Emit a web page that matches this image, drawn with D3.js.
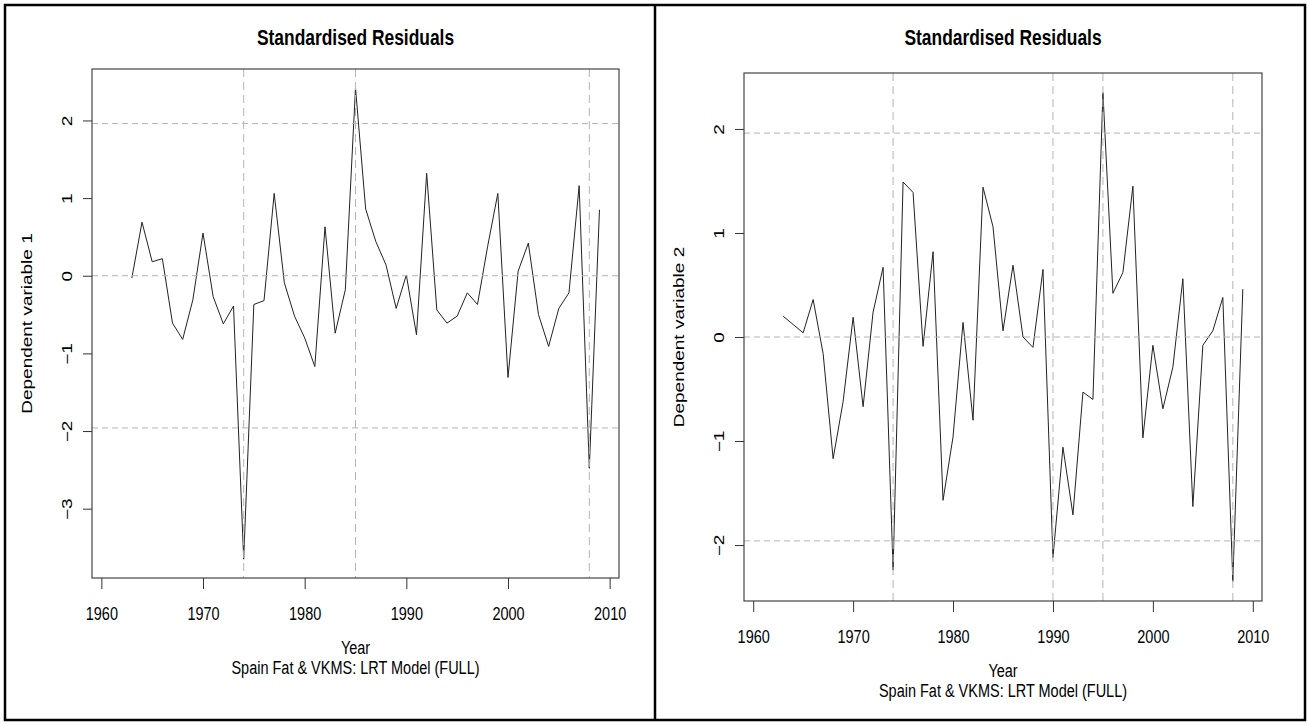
<!DOCTYPE html>
<html>
<head>
<meta charset="utf-8">
<script src="https://cdn.jsdelivr.net/npm/d3@7"></script>
<style>
  body { margin: 0; background: #fff; }
  text { font-family: "Liberation Sans", Arial, sans-serif; fill: #000; }
</style>
</head>
<body>
<svg id="chart"></svg>
<script>
// ---- data ----
const years = [1963, 1964, 1965, 1966, 1967, 1968, 1969, 1970, 1971, 1972,
  1973, 1974, 1975, 1976, 1977, 1978, 1979, 1980, 1981, 1982,
  1983, 1984, 1985, 1986, 1987, 1988, 1989, 1990, 1991, 1992,
  1993, 1994, 1995, 1996, 1997, 1998, 1999, 2000, 2001, 2002,
  2003, 2004, 2005, 2006, 2007, 2008, 2009];

const resid1 = [-0.03, 0.69, 0.18, 0.22, -0.61, -0.82, -0.31, 0.55, -0.27, -0.62,
  -0.39, -3.65, -0.37, -0.32, 1.06, -0.09, -0.52, -0.80, -1.17, 0.63,
  -0.74, -0.18, 2.42, 0.86, 0.44, 0.14, -0.42, 0.01, -0.76, 1.32,
  -0.44, -0.61, -0.52, -0.22, -0.37, 0.38, 1.06, -1.31, 0.06, 0.42,
  -0.50, -0.91, -0.42, -0.22, 1.16, -2.48, 0.85];

const resid2 = [0.20, 0.12, 0.04, 0.36, -0.16, -1.17, -0.62, 0.19, -0.67, 0.24,
  0.67, -2.24, 1.49, 1.39, -0.09, 0.82, -1.57, -0.96, 0.14, -0.80,
  1.44, 1.06, 0.06, 0.69, 0.00, -0.10, 0.65, -2.12, -1.06, -1.71,
  -0.53, -0.60, 2.35, 0.42, 0.62, 1.45, -0.97, -0.08, -0.69, -0.29,
  0.56, -1.63, -0.08, 0.06, 0.38, -2.35, 0.46];

const breaks1 = [1974, 1985, 2008];
const breaks2 = [1974, 1990, 1995, 2008];
const refLevels = [-1.96, 0, 1.96];

const xTicks = [1960, 1970, 1980, 1990, 2000, 2010];
const yTicks1 = [-3, -2, -1, 0, 1, 2];
const yTicks2 = [-2, -1, 0, 1, 2];

const titleText = "Standardised Residuals";
const xLabel = "Year";
const subText = "Spain Fat & VKMS: LRT Model (FULL)";

// ---- layout ----
const W = 1309, H = 724;
const SQ = 0.763;           // picture is squeezed horizontally, so is its text
const xlim = [1959.08, 2010.92];

const svg = d3.select("#chart").attr("width", W).attr("height", H);

// outer frames
svg.append("rect")
  .attr("x", 5).attr("y", 5).attr("width", 1300).attr("height", 715)
  .attr("fill", "none").attr("stroke", "#000").attr("stroke-width", 2.5);
svg.append("line")
  .attr("x1", 655).attr("x2", 655).attr("y1", 5).attr("y2", 720)
  .attr("stroke", "#000").attr("stroke-width", 2.5);

// R-style 4% axis padding
function rPad(ext) {
  const d = (ext[1] - ext[0]) * 0.04;
  return [ext[0] - d, ext[1] + d];
}

function drawPanel(cfg) {
  const g = svg.append("g");
  const x = d3.scaleLinear().domain(xlim).range([cfg.x0, cfg.x1]);
  const y = d3.scaleLinear().domain(rPad(d3.extent(cfg.values))).range([cfg.y1, cfg.y0]);
  const cx = (cfg.x0 + cfg.x1) / 2;
  const cy = (cfg.y0 + cfg.y1) / 2;

  // series
  g.append("path")
    .datum(years.map((yr, i) => [yr, cfg.values[i]]))
    .attr("fill", "none")
    .attr("stroke", "#222")
    .attr("stroke-width", 1)
    .attr("d", d3.line().x(d => x(d[0])).y(d => y(d[1])));

  // dashed reference lines
  g.selectAll("line.href").data(refLevels).join("line")
    .attr("class", "href")
    .attr("x1", cfg.x0).attr("x2", cfg.x1)
    .attr("y1", d => y(d)).attr("y2", d => y(d))
    .attr("stroke", "#b4b4b4").attr("stroke-dasharray", "6,4");

  g.selectAll("line.vref").data(cfg.breaks).join("line")
    .attr("class", "vref")
    .attr("x1", d => x(d)).attr("x2", d => x(d))
    .attr("y1", cfg.y0).attr("y2", cfg.y1)
    .attr("stroke", "#b4b4b4").attr("stroke-dasharray", "8,5");

  // box
  g.append("rect")
    .attr("x", cfg.x0).attr("y", cfg.y0)
    .attr("width", cfg.x1 - cfg.x0).attr("height", cfg.y1 - cfg.y0)
    .attr("fill", "none").attr("stroke", "#444").attr("stroke-width", 1.2);

  // x axis
  const xa = g.append("g")
    .attr("transform", `translate(0,${cfg.y1})`)
    .call(d3.axisBottom(x).tickValues(xTicks).tickSize(11).tickFormat(d3.format("d")));
  xa.select(".domain").remove();
  xa.selectAll("line").attr("stroke", "#333");
  xa.selectAll("text")
    .attr("y", null).attr("dy", null)
    .attr("transform", `translate(0,42) scale(${SQ},1)`)
    .attr("font-size", 19)
    .attr("font-family", null)
    .attr("fill", "#000");

  // y axis
  const ya = g.append("g")
    .attr("transform", `translate(${cfg.x0},0)`)
    .call(d3.axisLeft(y).tickValues(cfg.yTicks).tickSize(9).tickFormat(d3.format("d")));
  ya.select(".domain").remove();
  ya.selectAll("line").attr("stroke", "#333");
  ya.selectAll("text")
    .attr("x", null).attr("dy", null)
    .attr("text-anchor", "middle")
    .attr("transform", `translate(-20.5,0) scale(${SQ},1) rotate(-90)`)
    .attr("font-size", 19)
    .attr("font-family", null)
    .attr("fill", "#000");

  // title
  g.append("text")
    .attr("transform", `translate(${cx},45) scale(${SQ},1)`)
    .attr("text-anchor", "middle")
    .attr("font-size", 22.8)
    .attr("font-weight", "bold")
    .text(titleText);

  // y label
  g.append("text")
    .attr("transform", `translate(${cfg.x0 - 60},${cy}) scale(${SQ},1) rotate(-90)`)
    .attr("text-anchor", "middle")
    .attr("font-size", 19)
    .text(cfg.yLabel);

  // x label and sub title
  g.append("text")
    .attr("transform", `translate(${cx},${cfg.y1 + 76}) scale(${SQ},1)`)
    .attr("text-anchor", "middle")
    .attr("font-size", 19)
    .text(xLabel);
  g.append("text")
    .attr("transform", `translate(${cx},${cfg.y1 + 96}) scale(${SQ},1)`)
    .attr("text-anchor", "middle")
    .attr("font-size", 19)
    .text(subText);
}

drawPanel({ x0: 92, x1: 619, y0: 69, y1: 578, values: resid1, breaks: breaks1,
  yTicks: yTicks1, yLabel: "Dependent variable 1" });
drawPanel({ x0: 744, x1: 1262, y0: 73, y1: 601, values: resid2, breaks: breaks2,
  yTicks: yTicks2, yLabel: "Dependent variable 2" });
</script>
</body>
</html>
